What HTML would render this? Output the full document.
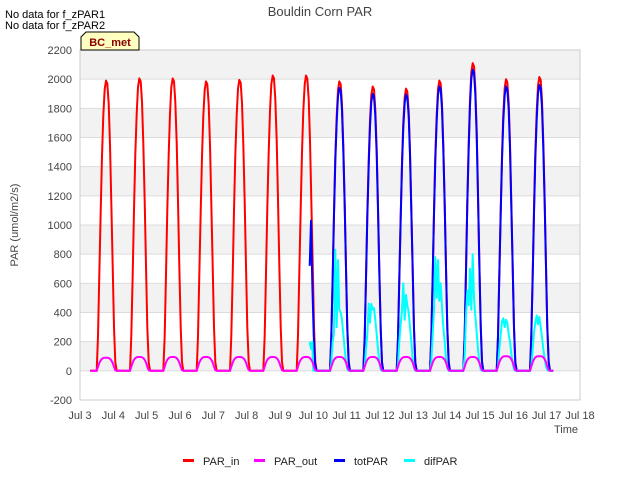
<!DOCTYPE html>
<html><head><meta charset="utf-8"><style>
body{margin:0;background:#fff;font-family:"Liberation Sans",sans-serif;}
svg text{font-family:"Liberation Sans",sans-serif;}
</style></head><body>
<svg id="c" width="640" height="480">
<rect x="0" y="0" width="640" height="480" fill="#fff"/>
<g id="grid"></g>
<g id="series"></g>
<g id="axes"></g>
<text x="320" y="16" text-anchor="middle" font-size="13" fill="#444">Bouldin Corn PAR</text>
<text x="5" y="18" font-size="11" fill="#000">No data for f_zPAR1</text>
<text x="5" y="29" font-size="11" fill="#000">No data for f_zPAR2</text>
<g>
<path d="M81,50 L81,37 L86,32 L134,32 L139,37 L139,50 Z" fill="#ffffc0" stroke="#000" stroke-width="1"/>
<text x="110" y="46" text-anchor="middle" font-size="11" font-weight="bold" fill="#8b0000">BC_met</text>
</g>
<text x="18" y="225" font-size="11" fill="#444" transform="rotate(-90 18 225)" text-anchor="middle">PAR (umol/m2/s)</text>
<text x="578" y="433" font-size="11" fill="#444" text-anchor="end">Time</text>
<g id="legend"></g>
</svg>
<script>
const yTicks=[-200,0,200,400,600,800,1000,1200,1400,1600,1800,2000,2200];
const xTickLabels=["Jul 3","Jul 4","Jul 5","Jul 6","Jul 7","Jul 8","Jul 9","Jul 10","Jul 11","Jul 12","Jul 13","Jul 14","Jul 15","Jul 16","Jul 17","Jul 18"];
const days=[3,4,5,6,7,8,9,10,11,12,13,14,15,16];
const parInPeaks=[1990,2005,2005,1985,1995,2025,2025,1985,1950,1935,1990,2110,2000,2015];
const parOutPeaks=[90,95,95,95,95,95,95,95,95,95,95,95,100,100];
const totDays=[10,11,12,13,14,15,16];
const totPeaks=[1940,1900,1895,1950,2065,1950,1960];
const profileT=[0.50,0.54,0.58,0.62,0.66,0.70,0.74,0.78,0.82,0.86,0.90,0.94,0.98,1.02,1.06,1.10];
const profile=[0,0.12,0.33,0.55,0.74,0.88,0.97,1.0,0.99,0.92,0.78,0.58,0.36,0.15,0.03,0];
const outProfile=[0,0.3,0.6,0.8,0.92,0.98,1.0,1.0,1.0,0.98,0.92,0.8,0.6,0.3,0.05,0];
const difDay10=[0,50,200,260,830,300,760,420,400,350,250,150,60,10,0,0];
const difDay11=[0,30,150,250,460,330,460,420,430,350,250,150,60,10,0,0];
const difDay12=[0,40,200,320,420,600,350,520,450,400,300,200,80,20,0,0];
const difDay13=[0,60,250,420,780,500,760,480,600,430,300,200,80,20,0,0];
const difDay14=[0,100,380,550,450,700,420,800,500,380,260,150,60,10,0,0];
const difDay15=[0,30,150,250,340,360,300,350,330,250,200,120,50,10,0,0];
const difDay16=[0,30,150,260,330,380,320,370,300,230,150,80,30,5,0,0];
const difDays=[difDay10,difDay11,difDay12,difDay13,difDay14,difDay15,difDay16];
const difStartT=[9.89,9.93,9.97,10.0];
const difStartV=[200,150,200,0];
const totStartT=[9.89,9.93,9.97,10.01,10.05,10.1];
const totStartV=[720,1030,600,250,50,0];

const X0=80,X1=580,Y0=50,Y1=400;
const xs=d=>X0+(d-3)/15*(X1-X0);
const ys=v=>Y1-(v+200)/2400*(Y1-Y0);
const NS="http://www.w3.org/2000/svg";
function mk(tag,attrs,parent){const e=document.createElementNS(NS,tag);for(const k in attrs)e.setAttribute(k,attrs[k]);parent.appendChild(e);return e;}
const grid=document.getElementById('grid'),axes=document.getElementById('axes'),ser=document.getElementById('series');
for(let i=0;i<yTicks.length-1;i++){
  if(i%2===1){const b=mk('rect',{x:X0,y:ys(yTicks[i+1]),width:X1-X0,height:ys(yTicks[i])-ys(yTicks[i+1]),fill:'#f2f2f2'},grid);
  
  }
}
yTicks.forEach(v=>{
  const l=mk('line',{x1:X0,x2:X1,y1:ys(v),y2:ys(v),stroke:'#dcdcdc','stroke-width':1},grid);
  
  
  const t=mk('text',{x:X0-8,y:ys(v)+4,'text-anchor':'end','font-size':11,fill:'#444'},axes);
  t.textContent=v;
  
  
});
const fr=mk('rect',{x:X0,y:Y0,width:X1-X0,height:Y1-Y0,fill:'none',stroke:'#ccc'},axes);


xTickLabels.forEach((s,i)=>{
  const t=mk('text',{x:xs(3+i),y:419,'text-anchor':'middle','font-size':11,fill:'#444'},axes);
  t.textContent=s;
  
  
});
function pathOf(pts){return pts.map((p,i)=>(i?'L':'M')+xs(p[0]).toFixed(1)+','+ys(p[1]).toFixed(1)).join(' ');}
// PAR_in & PAR_out
const inPts=[[3.3,0]],outPts=[[3.3,0]];
days.forEach((d,i)=>{profileT.forEach((t,j)=>{inPts.push([d+t,parInPeaks[i]*profile[j]]);outPts.push([d+t,parOutPeaks[i]*outProfile[j]]);});});
inPts.push([17.2,0]);outPts.push([17.2,0]);
// totPAR
const totPts=totStartT.map((t,i)=>[t,totStartV[i]]);
totDays.forEach((d,i)=>{profileT.forEach((t,j)=>totPts.push([d+t,totPeaks[i]*profile[j]]));});
totPts.push([17.2,0]);
// difPAR
const difPts=difStartT.map((t,i)=>[t,difStartV[i]]);
totDays.forEach((d,i)=>{profileT.forEach((t,j)=>difPts.push([d+t,difDays[i][j]]));});
difPts.push([17.2,0]);
const sdefs=[['PAR_in',inPts,'#ff0000'],['totPAR',totPts,'#0000ff'],['difPAR',difPts,'#00ffff'],['PAR_out',outPts,'#ff00ff']];
sdefs.forEach(s=>{
  const p=mk('path',{d:pathOf(s[1]),fill:'none',stroke:s[2],'stroke-width':2,'stroke-linejoin':'round'},ser);
  
  
});
const leg=document.getElementById('legend');
const legItems=[['PAR_in','#ff0000',183],['PAR_out','#ff00ff',254],['totPAR','#0000ff',334],['difPAR','#00ffff',404]];
legItems.forEach(it=>{
  const g=mk('g',{},leg);
  
  
  mk('rect',{x:it[2],y:459,width:11,height:3,fill:it[1]},g);
  const t=mk('text',{x:it[2]+20,y:465,'font-size':11,fill:'#222'},g);
  t.textContent=it[0];
});
</script>
</body></html>
